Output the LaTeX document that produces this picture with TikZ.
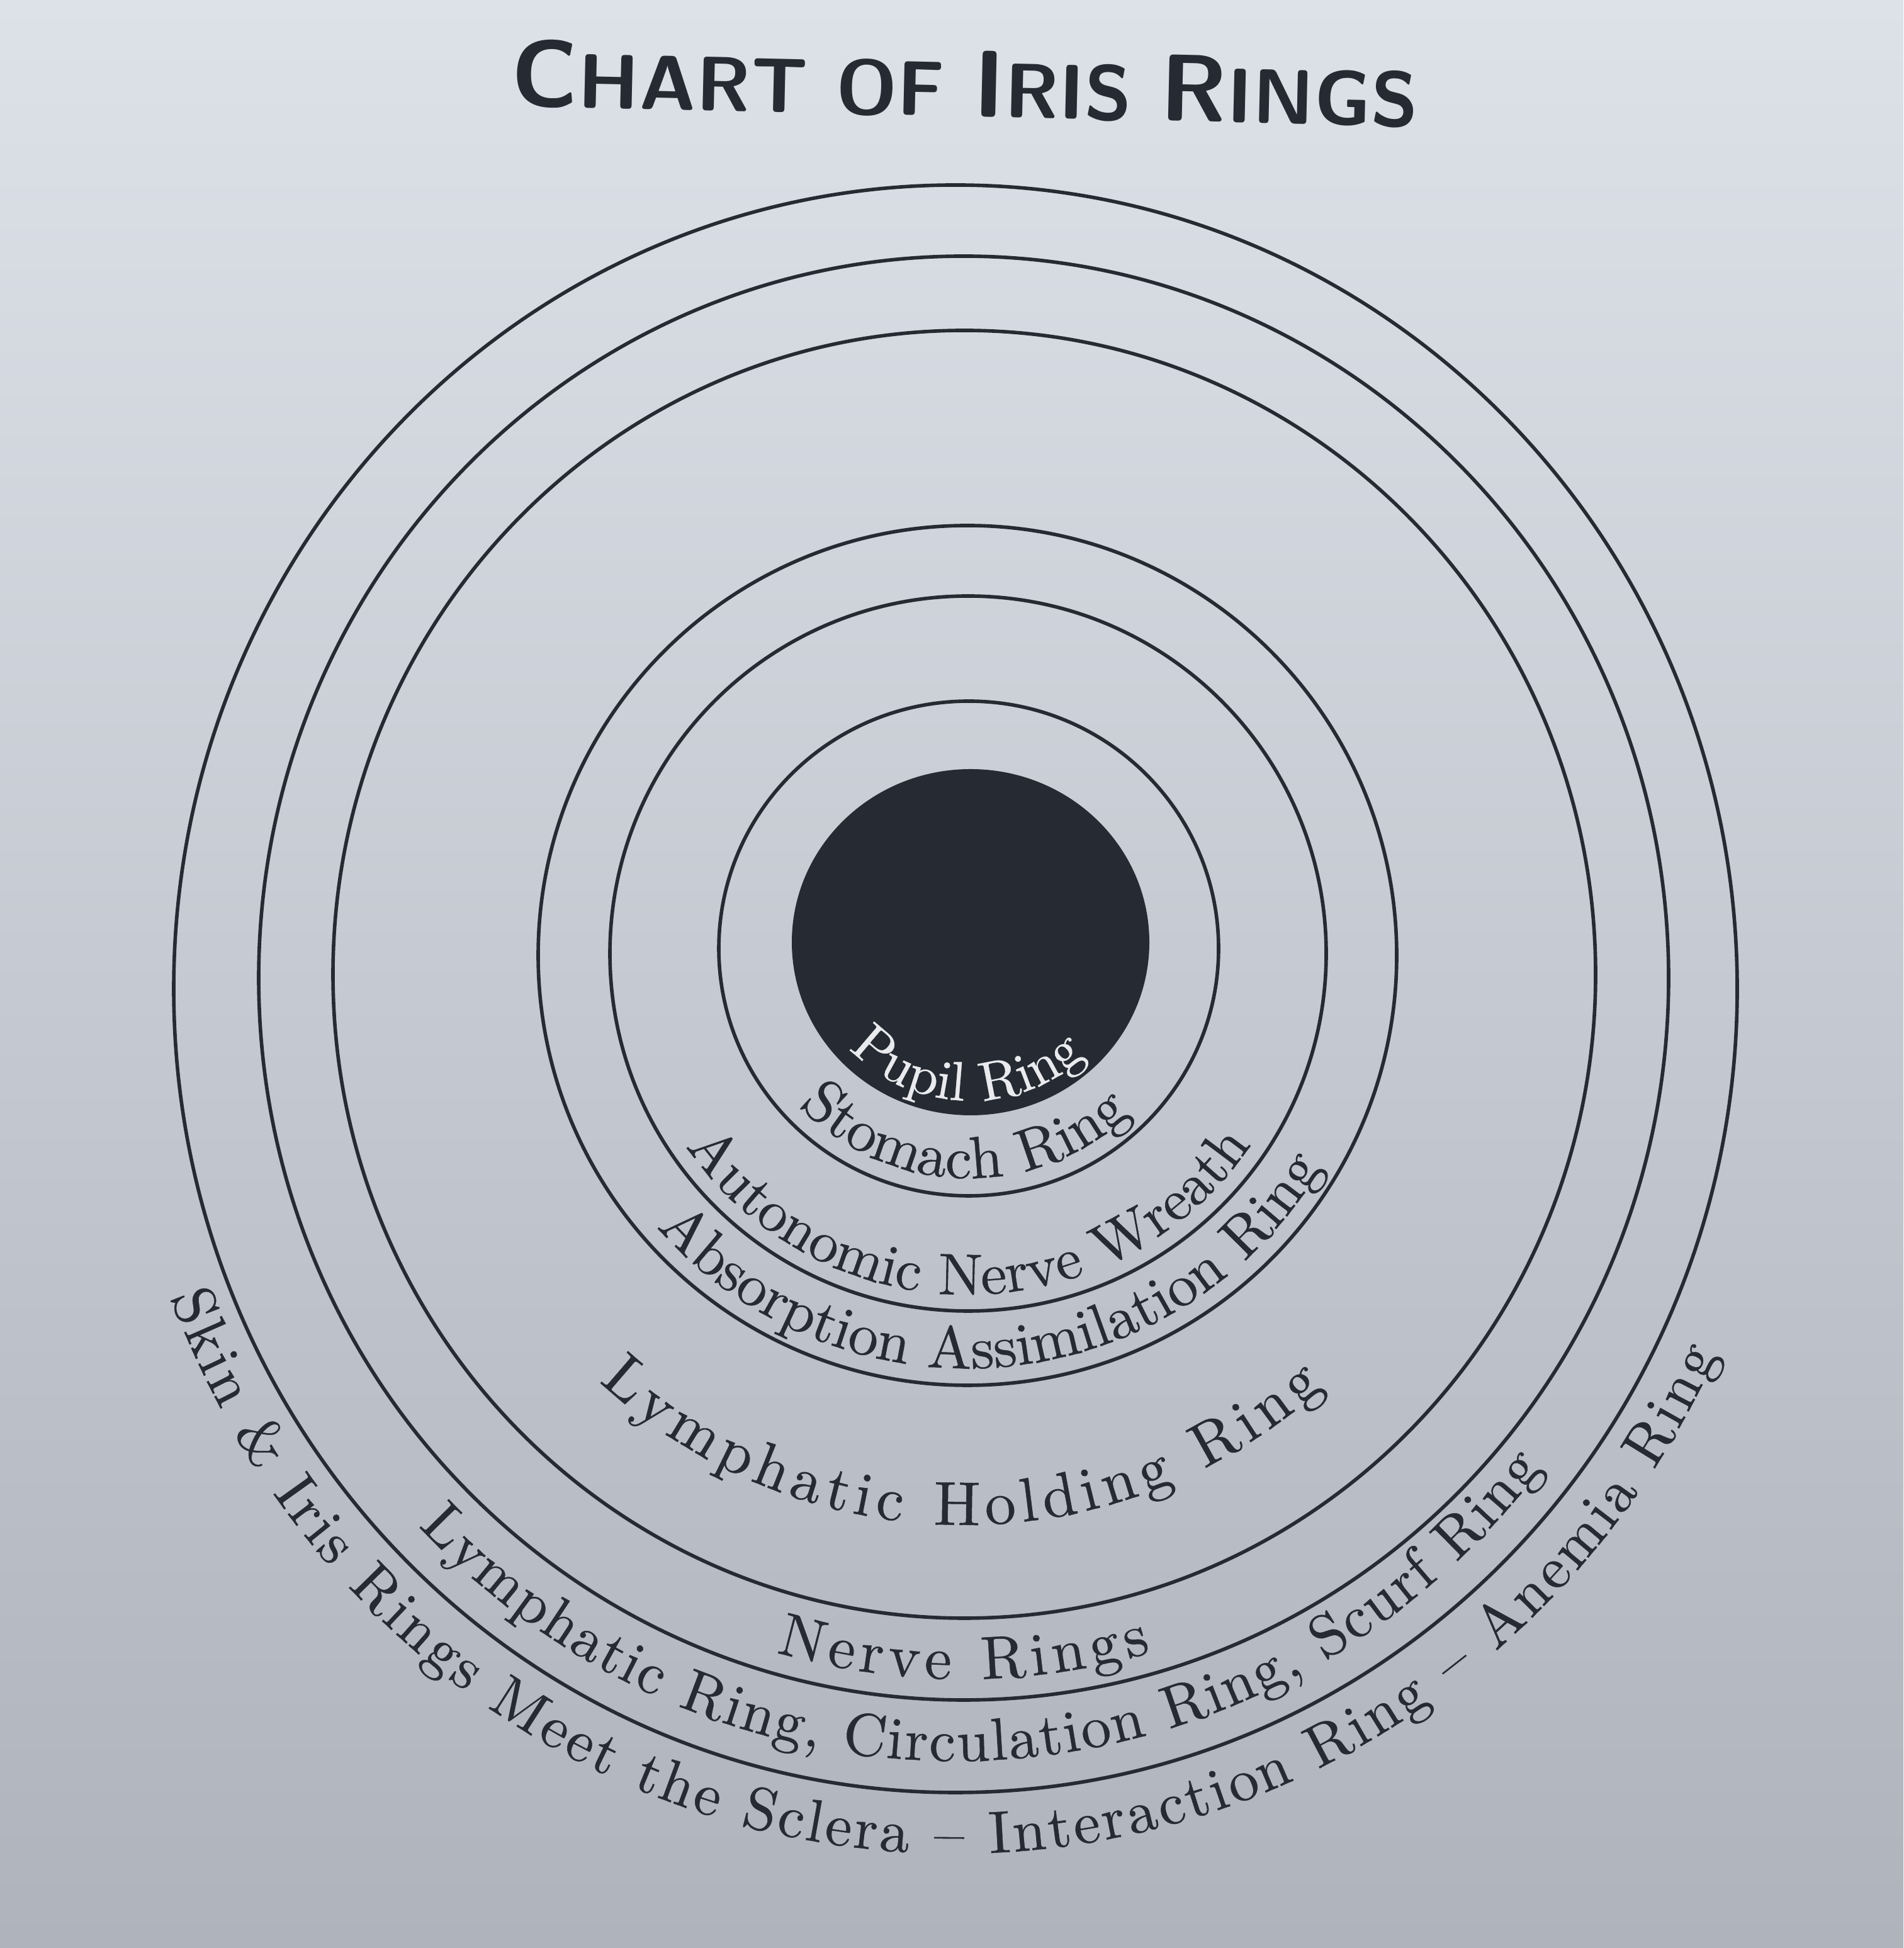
\documentclass[tikz,border=0pt]{standalone}
\usepackage{fontspec}
\newfontfamily\ringfont{lmroman10-regular.otf}[FakeBold=0.5]
\usetikzlibrary{decorations.text}
\definecolor{ink}{RGB}{38,42,50}
\definecolor{pupilink}{RGB}{232,234,238}
\definecolor{paperhi}{RGB}{221,225,232}
\definecolor{paperlo}{RGB}{174,179,188}
\newcommand\tbig{\fontsize{43pt}{43pt}\selectfont}
\newcommand\tsmall{\fontsize{35pt}{35pt}\selectfont}
\begingroup\catcode`\&=12 \gdef\ampchar{& }\endgroup
\tikzset{ring/.style={draw=ink,line width=1.6pt},
  ringtext/.style n args={3}{decorate,decoration={text along path,text align=center,
    text color=#1,text={|\ringfont\fontsize{#2}{#2}\selectfont|#3}}},
  widetext/.style 2 args={decorate,decoration={text along path,text align={fit to path},
    text color=ink,text={|\ringfont\fontsize{#1}{#1}\selectfont|#2}}}}

\begin{document}
\begin{tikzpicture}
 \useasboundingbox (0,0) rectangle (30.24,30.95);
 \fill[top color=paperhi,bottom color=paperlo] (0,0) rectangle (30.24,30.95);
 \node[anchor=base,rotate=-1.3,text=ink,inner sep=0pt] (title) at (15.32,29.10)
   {\sffamily\bfseries\tbig C\tsmall HART OF \tbig I\tsmall RIS \tbig R\tsmall INGS};
 \fill[ink] (15.42,15.98) ellipse (2.84 and 2.75);
 \draw[ring] (15.39,15.88) ellipse (3.97 and 3.93);
 \draw[ring] (15.38,15.80) ellipse (5.69 and 5.68);
 \draw[ring] (15.37,15.77) ellipse (6.82 and 6.83);
 \draw[ring] (15.32,15.47) ellipse (10.03 and 10.23);
 \draw[ring] (15.31,15.41) ellipse (11.20 and 11.47);
 \draw[ring] (15.18,15.24) ellipse (12.42 and 12.77);
 \path[shift={(15.42,15.98)},ringtext={pupilink}{25pt}{Pupil Ring}]
   (188.25:2.60cm and 2.52cm) arc[start angle=188.25,end angle=348.25,x radius=2.60cm,y radius=2.52cm];
 \path[shift={(15.39,15.88)},ringtext={ink}{27pt}{Stomach Ring}]
   (188.65:3.69cm and 3.65cm) arc[start angle=188.65,end angle=348.65,x radius=3.69cm,y radius=3.65cm];
 \path[shift={(15.38,15.80)},ringtext={ink}{26.5pt}{Autonomic Nerve Wreath}]
   (190.15:5.43cm and 5.42cm) arc[start angle=190.15,end angle=350.15,x radius=5.43cm,y radius=5.42cm];
 \path[shift={(15.37,15.77)},ringtext={ink}{27pt}{Absorption Assimilation Ring}]
   (195.2:6.55cm and 6.56cm) arc[start angle=195.2,end angle=355.2,x radius=6.55cm,y radius=6.56cm];
 \path[shift={(15.32,15.47)},widetext={28pt}{Lymphatic Holding Ring}]
   (227.7:8.62cm and 8.75cm) arc[start angle=227.7,end angle=311.5,x radius=8.62cm,y radius=8.75cm];
 \path[shift={(15.31,15.41)},widetext={27.5pt}{Nerve Rings}]
   (254.1:10.87cm and 11.14cm) arc[start angle=254.1,end angle=285.9,x radius=10.87cm,y radius=11.14cm];
 \path[shift={(15.18,15.24)},widetext={27pt}{Lymphatic Ring, Circulation Ring, Scurf Ring}]
   (224.1:11.88cm and 12.27cm) arc[start angle=224.1,end angle=321.7,x radius=11.88cm,y radius=12.27cm];
 \path[shift={(15.18,15.24)},widetext={27pt}{Skin \ampchar Iris Rings Meet the Sclera – Interaction Ring – Anemia Ring}]
   (200.9:13.35cm and 13.74cm) arc[start angle=200.9,end angle=335,x radius=13.35cm,y radius=13.74cm];
\end{tikzpicture}
\end{document}
